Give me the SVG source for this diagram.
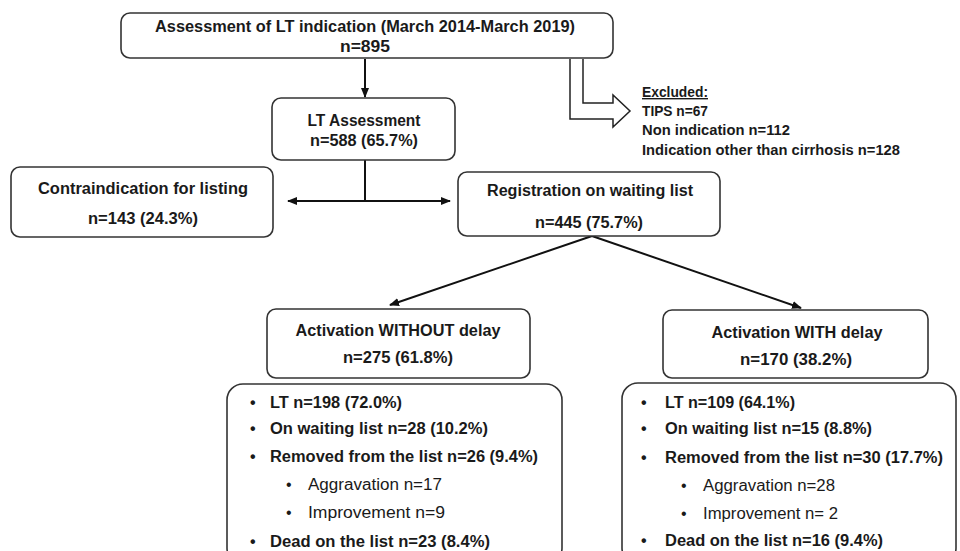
<svg xmlns="http://www.w3.org/2000/svg" width="960" height="551" viewBox="0 0 960 551">
<defs>
<style>
.box{fill:#fff;stroke:#333;stroke-width:1.6}
.t{font-family:"Liberation Sans",Arial,sans-serif;font-weight:bold;fill:#1a1a1a;text-anchor:middle;font-size:16px}
.l{font-family:"Liberation Sans",Arial,sans-serif;font-weight:bold;fill:#1a1a1a;font-size:16px}
.n{font-family:"Liberation Sans",Arial,sans-serif;font-weight:normal;fill:#1a1a1a;font-size:16px}
.x{font-family:"Liberation Sans",Arial,sans-serif;font-weight:bold;fill:#1a1a1a;font-size:14px}
.c{stroke:#111;stroke-width:2;fill:none}
</style>
<marker id="ah" viewBox="0 0 10 10" refX="9" refY="5" markerWidth="5" markerHeight="5" orient="auto-start-reverse" markerUnits="strokeWidth">
<path d="M0,1 L10,5 L0,9 Z" fill="#111"/>
</marker>
</defs>
<rect width="960" height="551" fill="#fff"/>

<g id="connectors">
<line class="c" x1="365" y1="59" x2="365" y2="97" marker-end="url(#ah)"/>
<line class="c" x1="365" y1="160" x2="365" y2="201"/>
<line class="c" x1="288" y1="201" x2="450" y2="201" marker-start="url(#ah)" marker-end="url(#ah)"/>
<line class="c" x1="592" y1="236" x2="390" y2="305" marker-end="url(#ah)"/>
<line class="c" x1="592" y1="236" x2="801" y2="308" marker-end="url(#ah)"/>
<path d="M570,59 V119 H613 V127 L630,111 L613,95 V103 H583 V59" fill="#fff" stroke="#222" stroke-width="1.5"/>
</g>

<g id="n-top">
<rect class="box" x="121" y="13" width="492" height="45" rx="9"/>
<text class="t" x="365" y="32" textLength="420" lengthAdjust="spacingAndGlyphs">Assessment of LT indication (March 2014-March 2019)</text>
<text class="t" x="365" y="52" textLength="50" lengthAdjust="spacingAndGlyphs">n=895</text>
</g>

<g id="n-excluded">
<text class="x" x="642" y="97" textLength="66" lengthAdjust="spacingAndGlyphs" text-decoration="underline">Excluded:</text>
<text class="x" x="642" y="116" textLength="66" lengthAdjust="spacingAndGlyphs">TIPS n=67</text>
<text class="x" x="642" y="135" textLength="148" lengthAdjust="spacingAndGlyphs">Non indication n=112</text>
<text class="x" x="642" y="155" textLength="258" lengthAdjust="spacingAndGlyphs">Indication other than cirrhosis n=128</text>
</g>

<g id="n-lt">
<rect class="box" x="272" y="98" width="183" height="62" rx="9"/>
<text class="t" x="364" y="126" textLength="113" lengthAdjust="spacingAndGlyphs">LT Assessment</text>
<text class="t" x="364" y="146" textLength="108" lengthAdjust="spacingAndGlyphs">n=588 (65.7%)</text>
</g>

<g id="n-contra">
<rect class="box" x="11" y="167" width="262" height="70" rx="9"/>
<text class="t" x="143" y="194" textLength="210" lengthAdjust="spacingAndGlyphs">Contraindication for listing</text>
<text class="t" x="143" y="224" textLength="110" lengthAdjust="spacingAndGlyphs">n=143 (24.3%)</text>
</g>

<g id="n-reg">
<rect class="box" x="458" y="172" width="262" height="64" rx="9"/>
<text class="t" x="590" y="196" textLength="206" lengthAdjust="spacingAndGlyphs">Registration on waiting list</text>
<text class="t" x="589" y="228" textLength="108" lengthAdjust="spacingAndGlyphs">n=445 (75.7%)</text>
</g>

<g id="n-without">
<rect class="box" x="267" y="309" width="263" height="69" rx="9"/>
<text class="t" x="398" y="336" textLength="205" lengthAdjust="spacingAndGlyphs">Activation WITHOUT delay</text>
<text class="t" x="398" y="363" textLength="110" lengthAdjust="spacingAndGlyphs">n=275 (61.8%)</text>
</g>

<g id="n-with">
<rect class="box" x="663" y="310" width="265" height="68" rx="9"/>
<text class="t" x="797" y="338" textLength="171" lengthAdjust="spacingAndGlyphs">Activation WITH delay</text>
<text class="t" x="796" y="365" textLength="112" lengthAdjust="spacingAndGlyphs">n=170 (38.2%)</text>
</g>

<g id="n-list-left">
<rect class="box" x="227" y="384" width="335" height="180" rx="16"/>
<g class="l">
<text x="250" y="408">•</text><text x="270" y="408" textLength="132" lengthAdjust="spacingAndGlyphs">LT n=198 (72.0%)</text>
<text x="250" y="434">•</text><text x="270" y="434" textLength="218" lengthAdjust="spacingAndGlyphs">On waiting list n=28 (10.2%)</text>
<text x="250" y="462">•</text><text x="270" y="462" textLength="268" lengthAdjust="spacingAndGlyphs">Removed from the list n=26 (9.4%)</text>
<text x="250" y="547">•</text><text x="270" y="547" textLength="220" lengthAdjust="spacingAndGlyphs">Dead on the list n=23 (8.4%)</text>
</g>
<g class="n">
<text x="286" y="490">•</text><text x="308" y="490" textLength="134" lengthAdjust="spacingAndGlyphs">Aggravation n=17</text>
<text x="286" y="518">•</text><text x="308" y="518" textLength="137" lengthAdjust="spacingAndGlyphs">Improvement n=9</text>
</g>
</g>

<g id="n-list-right">
<rect class="box" x="622" y="383" width="334" height="181" rx="16"/>
<g class="l">
<text x="641" y="408">•</text><text x="665" y="408" textLength="130" lengthAdjust="spacingAndGlyphs">LT n=109 (64.1%)</text>
<text x="641" y="434">•</text><text x="665" y="434" textLength="207" lengthAdjust="spacingAndGlyphs">On waiting list n=15 (8.8%)</text>
<text x="641" y="463">•</text><text x="665" y="463" textLength="278" lengthAdjust="spacingAndGlyphs">Removed from the list n=30 (17.7%)</text>
<text x="641" y="546">•</text><text x="665" y="546" textLength="218" lengthAdjust="spacingAndGlyphs">Dead on the list n=16 (9.4%)</text>
</g>
<g class="n">
<text x="681" y="491">•</text><text x="703" y="491" textLength="132" lengthAdjust="spacingAndGlyphs">Aggravation n=28</text>
<text x="681" y="519">•</text><text x="703" y="519" textLength="135" lengthAdjust="spacingAndGlyphs">Improvement n= 2</text>
</g>
</g>
</svg>
